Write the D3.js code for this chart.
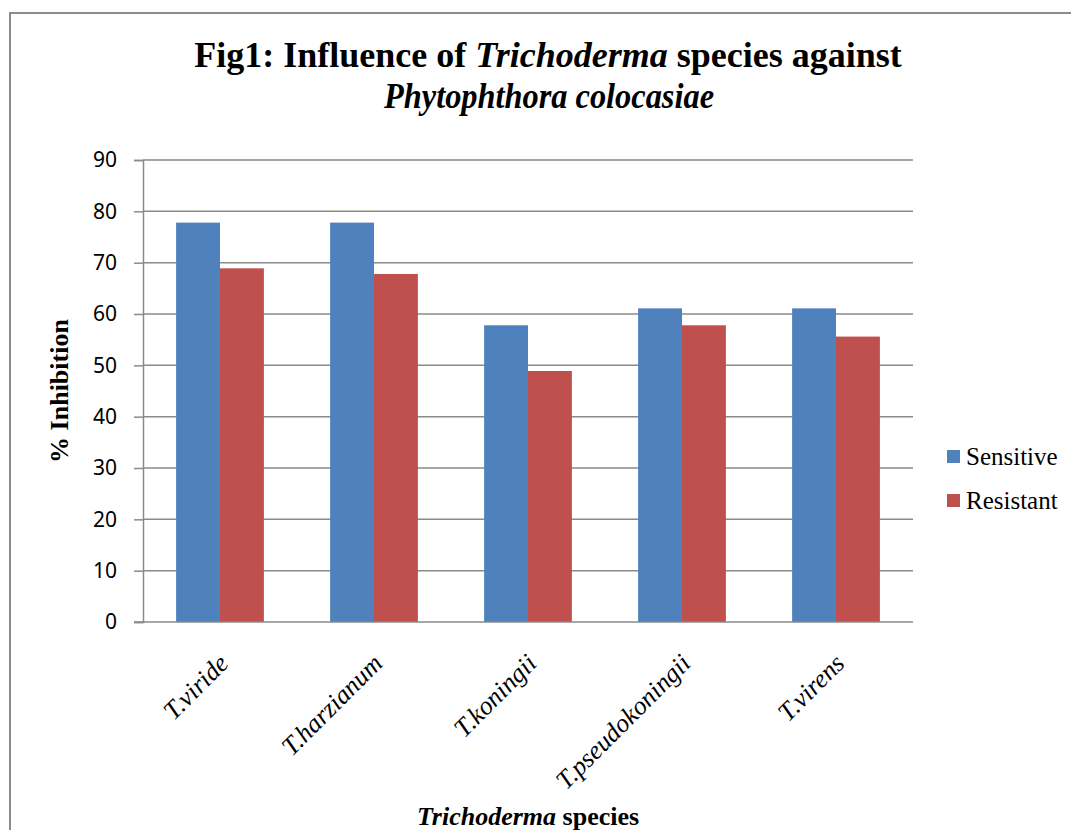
<!DOCTYPE html>
<html>
<head>
<meta charset="utf-8">
<script src="https://cdn.jsdelivr.net/npm/d3@7"></script>
<style>
  body { margin: 0; background: #fff; }
</style>
</head>
<body>
<svg id="drawing_region"></svg>
<script>
const species = ["T.viride", "T.harzianum", "T.koningii", "T.pseudokoningii", "T.virens"];
const seriesNames = ["Sensitive", "Resistant"];
const sensitive = [77.8, 77.8, 57.8, 61.1, 61.1];
const resistant = [68.9, 67.8, 48.9, 57.8, 55.6];
const yTicks = [0, 10, 20, 30, 40, 50, 60, 70, 80, 90];
const colors = ["#4F81BD", "#C0504D"];

const width = 1071, height = 830;
const plot = {left: 143, right: 913, top: 160, bottom: 622};
const serif = '"Liberation Serif", "Times New Roman", serif';

const svg = d3.select('#drawing_region')
    .attr('width', width)
    .attr('height', height);

// outer frame
svg.append('rect')
    .attr('x', 10).attr('y', 13)
    .attr('width', width + 20).attr('height', height + 20)
    .attr('fill', 'none')
    .attr('stroke', '#8c8c8c')
    .attr('stroke-width', 2);

const xscale = d3.scaleBand()
    .domain(species)
    .range([plot.left, plot.right])
    .paddingInner(0.43)
    .paddingOuter(0.215);

const xsub = d3.scaleBand()
    .domain(seriesNames)
    .range([0, xscale.bandwidth()]);

const yscale = d3.scaleLinear()
    .domain([0, 90])
    .range([plot.bottom, plot.top]);

// gridlines
svg.append('g')
    .selectAll('line')
    .data(yTicks.filter(d => d > 0))
    .join('line')
    .attr('x1', plot.left).attr('x2', plot.right)
    .attr('y1', d => yscale(d)).attr('y2', d => yscale(d))
    .attr('stroke', '#8a8a8a')
    .attr('stroke-width', 1.5);

// bars
const data = species.map((s, i) => ({name: s, values: [sensitive[i], resistant[i]]}));
svg.append('g')
    .selectAll('g')
    .data(data)
    .join('g')
    .attr('transform', d => `translate(${xscale(d.name)},0)`)
    .selectAll('rect')
    .data(d => d.values.map((v, j) => ({key: seriesNames[j], v: v, j: j})))
    .join('rect')
    .attr('x', d => xsub(d.key))
    .attr('y', d => yscale(d.v))
    .attr('width', xsub.bandwidth())
    .attr('height', d => yscale(0) - yscale(d.v))
    .attr('fill', d => colors[d.j]);

// y axis
const yaxis = d3.axisLeft(yscale)
    .tickValues(yTicks)
    .tickSize(9)
    .tickPadding(17);

const yg = svg.append('g')
    .attr('transform', `translate(${plot.left},0)`)
    .call(yaxis);
yg.select('.domain').attr('stroke', '#8a8a8a').attr('stroke-width', 1.5);
yg.selectAll('.tick line').attr('stroke', '#8a8a8a').attr('stroke-width', 1.5);
yg.selectAll('.tick text')
    .attr('font-family', '"Noto Sans", "Open Sans", sans-serif')
    .attr('font-size', 21)
    .attr('fill', '#000');

// x axis baseline
svg.append('line')
    .attr('x1', plot.left - 9).attr('x2', plot.right)
    .attr('y1', plot.bottom).attr('y2', plot.bottom)
    .attr('stroke', '#8a8a8a')
    .attr('stroke-width', 1.5);

// x labels
svg.append('g')
    .selectAll('text')
    .data(species)
    .join('text')
    .attr('transform', d => `translate(${xscale(d) + xscale.bandwidth() / 2 + 10},${plot.bottom + 43}) rotate(-45)`)
    .attr('text-anchor', 'end')
    .attr('font-family', serif)
    .attr('font-style', 'italic')
    .attr('font-size', 26)
    .text(d => d);

// title
const title = svg.append('text')
    .attr('text-anchor', 'middle')
    .attr('font-family', serif)
    .attr('font-weight', 'bold')
    .attr('font-size', 36);
const t1 = title.append('tspan').attr('x', 548).attr('y', 67);
t1.append('tspan').text('Fig1: Influence of ');
t1.append('tspan').attr('font-style', 'italic').text('Trichoderma');
t1.append('tspan').text(' species against');
svg.append('text')
    .attr('x', 384).attr('y', 108)
    .attr('font-family', serif)
    .attr('font-weight', 'bold')
    .attr('font-style', 'italic')
    .attr('font-size', 36)
    .attr('textLength', 330)
    .attr('lengthAdjust', 'spacingAndGlyphs')
    .text('Phytophthora colocasiae');

// y title
svg.append('text')
    .attr('transform', `translate(68,${(plot.top + plot.bottom) / 2}) rotate(-90)`)
    .attr('text-anchor', 'middle')
    .attr('font-family', serif)
    .attr('font-weight', 'bold')
    .attr('font-size', 26)
    .text('% Inhibition');

// x title
const xt = svg.append('text')
    .attr('x', 528).attr('y', 825)
    .attr('text-anchor', 'middle')
    .attr('font-family', serif)
    .attr('font-weight', 'bold')
    .attr('font-size', 26);
xt.append('tspan').attr('font-style', 'italic').text('Trichoderma');
xt.append('tspan').text(' species');

// legend
const legend = svg.append('g')
    .selectAll('g')
    .data(seriesNames)
    .join('g')
    .attr('transform', (d, i) => `translate(947,${450 + i * 44})`);
legend.append('rect')
    .attr('width', 13).attr('height', 13)
    .attr('fill', (d, i) => colors[i]);
legend.append('text')
    .attr('x', 19).attr('y', 15)
    .attr('font-family', serif)
    .attr('font-size', 25)
    .text(d => d);
</script>
</body>
</html>
